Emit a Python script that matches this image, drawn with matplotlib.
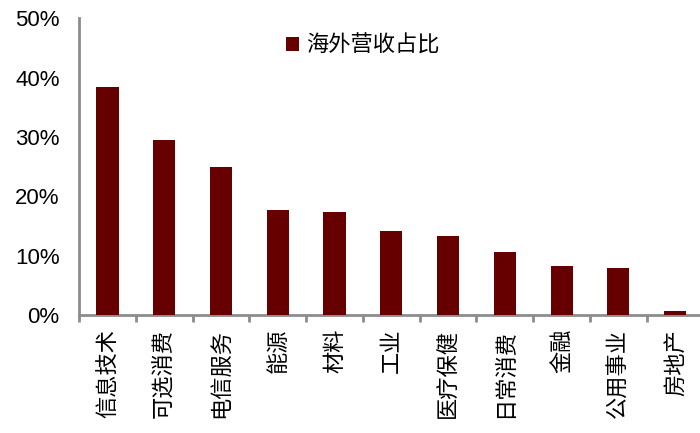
import matplotlib
matplotlib.use("Agg")
import matplotlib.pyplot as plt
from matplotlib.ticker import PercentFormatter

categories = ["信息技术", "可选消费", "电信服务", "能源", "材料", "工业",
              "医疗保健", "日常消费", "金融", "公用事业", "房地产"]
values = [38.4, 29.5, 24.9, 17.7, 17.3, 14.1, 13.3, 10.7, 8.3, 8.0, 0.6]
series_name = "海外营收占比"
yticks = [0, 10, 20, 30, 40, 50]

plt.rcParams['font.family'] = ['Noto Sans CJK SC', 'DejaVu Sans']

fig = plt.figure(figsize=(7, 4.33), dpi=100)
ax = fig.add_axes([0.113, 0.2725, 0.892, 0.685])

x = list(range(len(categories)))
ax.bar(x, values, width=0.39, color="#660000", label=series_name, zorder=3)

ax.set_xlim(-0.5, len(categories) - 0.5)
ax.set_ylim(0, 50)
ax.set_yticks(yticks)
ax.yaxis.set_major_formatter(PercentFormatter(decimals=0))
for lab in ax.get_yticklabels():
    lab.set_fontfamily(['Liberation Sans', 'DejaVu Sans'])
    lab.set_fontsize(16)
ax.tick_params(axis='y', length=0, pad=14, colors='black')

ax.set_xticks([i - 0.5 for i in range(len(categories) + 1)])
ax.set_xticklabels([])
ax.set_xticks(x, minor=True)
ax.set_xticklabels(categories, minor=True, rotation=90)
ax.tick_params(axis='x', which='major', length=5, width=2, color='#8c8c8c', direction='out')
ax.tick_params(axis='x', which='minor', length=0, pad=10, labelsize=16)

for s in ['top', 'right']:
    ax.spines[s].set_visible(False)
for s in ['left', 'bottom']:
    ax.spines[s].set_color('#8c8c8c')
    ax.spines[s].set_linewidth(2)

ax.legend(loc='upper left', bbox_to_anchor=(0.30, 1.015), frameon=False,
          prop={'size': 16}, handlelength=0.55, handleheight=0.55, handletextpad=0.35)

fig.savefig("out.png", dpi=100)
